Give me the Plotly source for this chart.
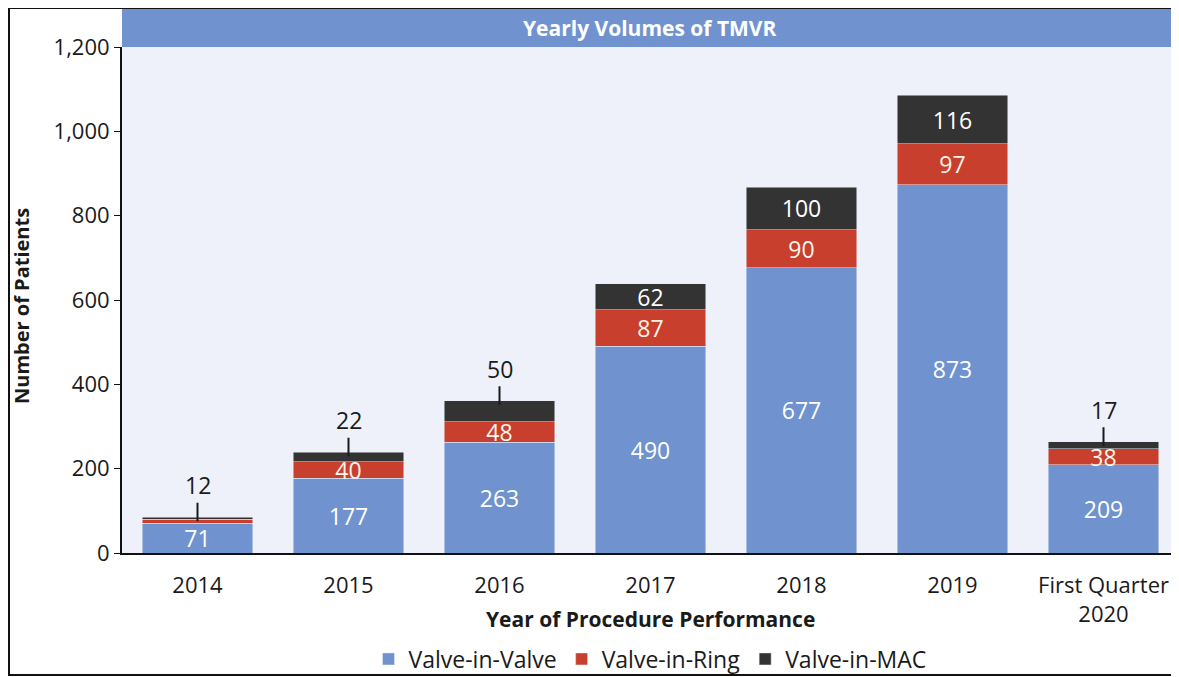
import plotly.graph_objects as go

categories = ["2014", "2015", "2016", "2017", "2018", "2019", "First Quarter<br>2020"]
valve_in_valve = [71, 177, 263, 490, 677, 873, 209]
valve_in_ring = [9, 40, 48, 87, 90, 97, 38]
valve_in_mac = [5, 22, 50, 62, 100, 116, 17]

# which labels are written inside the segment (others shown as callouts / hidden)
ring_label_inside = [False, True, True, True, True, True, True]
mac_label_inside = [False, False, False, True, True, True, False]
mac_callout_text = ["12", "22", "50", "", "", "", "17"]

BLUE = "#7093cf"
RED = "#c8402d"
DARK = "#333333"
FONT = "Open Sans"
INSIDE = 23

fig = go.Figure()
fig.add_bar(x=categories, y=valve_in_valve, name="Valve-in-Valve", marker_color=BLUE,
            text=[str(v) for v in valve_in_valve], textposition="inside", textangle=0,
            insidetextanchor="middle", textfont=dict(color="white", size=INSIDE, family=FONT),
            constraintext="none")
fig.add_bar(x=categories, y=valve_in_ring, name="Valve-in-Ring", marker_color=RED,
            text=[str(v) if s else "" for v, s in zip(valve_in_ring, ring_label_inside)],
            textposition="inside", insidetextanchor="middle", textangle=0,
            textfont=dict(color="#fff4ea", size=INSIDE, family=FONT), constraintext="none")
fig.add_bar(x=categories, y=valve_in_mac, name="Valve-in-MAC", marker_color=DARK,
            text=[str(v) if s else "" for v, s in zip(valve_in_mac, mac_label_inside)],
            textposition="inside", insidetextanchor="middle", textangle=0,
            textfont=dict(color="white", size=INSIDE, family=FONT), constraintext="none")

for i, (a, b, m, t) in enumerate(zip(valve_in_valve, valve_in_ring, valve_in_mac, mac_callout_text)):
    if t:
        fig.add_annotation(x=i, y=a + b + m, yshift=-4, text=t, showarrow=True, ax=0, ay=-36,
                           arrowhead=0, arrowwidth=2, arrowcolor="#1a1a1a", standoff=0,
                           font=dict(size=INSIDE, color="#1a1a1a", family=FONT))

# page is offset by 8 px (body margin); work in page pixels
OFF = 8
W, H = 1179 - OFF, 677 - OFF
L, R, T, B = 122 - OFF, 0, 47 - OFF, 677 - 553
pw, ph = W - L - R, H - T - B

def px(x):
    return (x - OFF - L) / pw

def py(y):
    return (553 - y) / ph

# title band
fig.add_shape(type="rect", xref="paper", yref="paper", x0=0, x1=1, y0=1, y1=py(8),
              fillcolor=BLUE, line_width=0, layer="above")
fig.add_annotation(xref="paper", yref="paper", x=px(650), y=py(28), xanchor="center", yanchor="middle",
                   text="<b>Yearly Volumes of TMVR</b>",
                   showarrow=False, font=dict(size=21, color="white", family=FONT))
# axis titles
fig.add_annotation(xref="paper", yref="paper", x=px(650), y=py(619), xanchor="center", yanchor="middle",
                   text="<b>Year of Procedure Performance</b>",
                   showarrow=False, font=dict(size=21, color="#1a1a1a", family=FONT))
fig.add_annotation(xref="paper", yref="paper", x=px(22), y=py(306), xanchor="center", yanchor="middle",
                   text="<b>Number of Patients</b>", textangle=-90,
                   showarrow=False, font=dict(size=20, color="#1a1a1a", family=FONT))
# outer frame
fig.add_shape(type="rect", xref="paper", yref="paper", x0=px(9), x1=px(1190), y0=py(675), y1=py(8),
              line=dict(color="#111111", width=2), fillcolor="rgba(0,0,0,0)")

fig.update_layout(
    width=W, height=H, barmode="stack", bargap=0.265,
    margin=dict(l=L, r=R, t=T, b=B, autoexpand=False),
    paper_bgcolor="white", plot_bgcolor="#eef1f9",
    font=dict(family=FONT, color="#1a1a1a", size=22),
    legend=dict(orientation="h", x=px(650), xanchor="center", y=py(659), yanchor="middle",
                bgcolor="rgba(0,0,0,0)", font=dict(size=23, family=FONT), traceorder="normal",
                itemwidth=30),
    xaxis=dict(type="category", range=[-0.5, 6.5], showline=True, linecolor="#111111", linewidth=2,
               ticks="", tickfont=dict(size=22, family=FONT), ticklabelstandoff=12, automargin=False),
    yaxis=dict(range=[0, 1200], tickvals=[0, 200, 400, 600, 800, 1000, 1200], tickformat=",",
               showline=True, linecolor="#111111", linewidth=2, ticks="outside", ticklen=6,
               tickcolor="#111111", showgrid=False, zeroline=False, automargin=False,
               tickfont=dict(size=22, family=FONT)),
    showlegend=True,
)

fig.write_html("out.html")
